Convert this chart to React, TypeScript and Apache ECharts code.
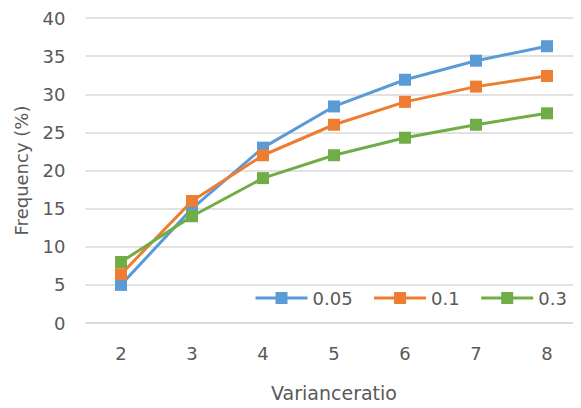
import React, { useEffect, useRef } from "react";
import * as echarts from "echarts";

const ratios = ["2", "3", "4", "5", "6", "7", "8"];
const seriesNames = ["0.05", "0.1", "0.3"];
const freq005 = [5, 15, 23, 28.4, 31.9, 34.4, 36.3];
const freq01 = [6.4, 16, 22, 26, 29, 31, 32.4];
const freq03 = [8, 14, 19, 22, 24.3, 26, 27.5];
const colors = ["#5B9BD5", "#ED7D31", "#70AD47"];

const FONT = "'DejaVu Sans', 'Noto Sans', sans-serif";
const TEXT = "#595959";

export default function App() {
  const ref = useRef<HTMLDivElement>(null);

  useEffect(() => {
    if (!ref.current) return;
    const chart = echarts.init(ref.current, undefined, { renderer: "svg" });
    const values = [freq005, freq01, freq03];
    chart.setOption({
      animation: false,
      textStyle: { fontFamily: FONT },
      grid: {
        left: 77.5,
        top: 10,
        width: 497,
        height: 305,
        containLabel: false,
        outerBoundsMode: "none",
      },
      legend: {
        data: seriesNames,
        left: 246,
        top: 281,
        padding: 0,
        itemWidth: 52,
        itemHeight: 15,
        itemGap: 20,
        lineStyle: { width: 3 },
        textStyle: { color: TEXT, fontSize: 18, fontFamily: FONT },
      },
      xAxis: {
        type: "category",
        data: ratios,
        boundaryGap: true,
        name: "Varianceratio",
        nameLocation: "middle",
        nameGap: 60,
        nameTextStyle: { color: TEXT, fontSize: 19, fontFamily: FONT },
        axisLine: { lineStyle: { color: "#D9D9D9", width: 1.5 } },
        axisTick: { alignWithLabel: true, length: 5, lineStyle: { color: "#D9D9D9" } },
        axisLabel: { color: TEXT, fontSize: 18, margin: 21, fontFamily: FONT },
      },
      yAxis: {
        type: "value",
        min: 0,
        max: 40,
        interval: 5,
        name: "Frequency (%)",
        nameLocation: "middle",
        nameGap: 55,
        nameTextStyle: { color: TEXT, fontSize: 18, fontFamily: FONT },
        axisLine: { show: false },
        axisTick: { show: false },
        axisLabel: { color: TEXT, fontSize: 18, margin: 20, fontFamily: FONT },
        splitLine: { lineStyle: { color: "#D9D9D9", width: 1.5 } },
      },
      series: seriesNames.map((name, i) => ({
        name,
        type: "line",
        data: values[i],
        symbol: "rect",
        symbolSize: 12,
        showSymbol: true,
        color: colors[i],
        lineStyle: { width: 3, color: colors[i] },
        itemStyle: { color: colors[i] },
      })),
    });
    return () => chart.dispose();
  }, []);

  return <div ref={ref} style={{ width: 573, height: 400 }} />;
}
